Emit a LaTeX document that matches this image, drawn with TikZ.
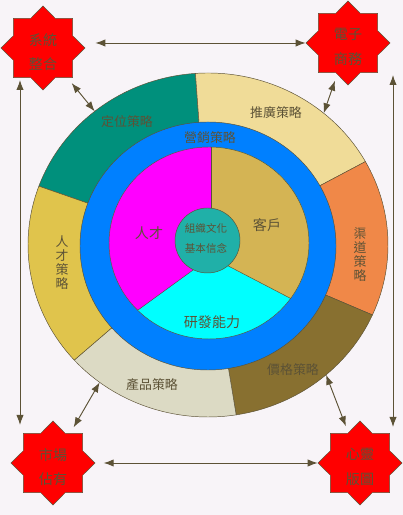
\documentclass[tikz,border=0pt]{standalone}
\usepackage{fontspec}
\setmainfont{Noto Sans CJK TC}
\usetikzlibrary{shapes.geometric,arrows.meta}
\definecolor{bgpink}{RGB}{248,244,248}
\definecolor{inkbrown}{RGB}{92,82,54}
\definecolor{dingwei}{RGB}{0,144,124}
\definecolor{tuiguang}{RGB}{240,220,152}
\definecolor{qudao}{RGB}{240,136,72}
\definecolor{jiage}{RGB}{136,112,48}
\definecolor{chanpin}{RGB}{220,218,196}
\definecolor{rencai}{RGB}{224,196,76}
\definecolor{ringblue}{RGB}{0,128,255}
\definecolor{kehu}{RGB}{212,180,84}
\definecolor{coreteal}{RGB}{32,176,168}
\definecolor{piemagenta}{RGB}{255,0,255}
\definecolor{piecyan}{RGB}{0,255,255}
\definecolor{starred}{RGB}{255,0,0}
\begin{document}
\begin{tikzpicture}[x=0.03cm,y=0.03cm,
    biarrow/.style={draw=inkbrown,line width=0.8pt,{Latex[length=0.3cm,width=0.22cm]}-{Latex[length=0.3cm,width=0.22cm]}},
    starbox/.style={star,star points=8,star point ratio=1.31,minimum size=2.52cm,inner sep=0pt,fill=starred,draw=inkbrown,line width=0.4pt},
    starlbl/.style={text=inkbrown,align=center,font=\fontsize{12}{21}\selectfont,yshift=-0.12cm},
    lbl/.style={text=inkbrown,inner sep=0pt,font=\fontsize{11}{13}\selectfont},
    vlbl/.style={lbl,align=center,font=\fontsize{11}{12}\selectfont}]
    %% background
    \fill[bgpink] (0,0) rectangle (403,515);
    \useasboundingbox (0,0) rectangle (403,515);
    %% outer ring
    \coordinate (c1) at (208,270);
    \foreach \a/\b/\col in {94/160/dingwei,29/94/tuiguang,-24/29/qudao,-81/-24/jiage,222/279/chanpin,160/222/rencai}
        \filldraw[fill=\col,draw=inkbrown,line width=0.4pt] (c1) -- ++(\a:180 and 172) arc[start angle=\a,end angle=\b,x radius=180,y radius=172] -- cycle;
    %% blue ring
    \filldraw[fill=ringblue,draw=inkbrown,line width=0.4pt] (208,269) ellipse[x radius=128,y radius=124];
    %% inner pie
    \coordinate (p) at (211,258);
    \begin{scope}
        \clip (209,272) ellipse[x radius=100,y radius=96];
        \fill[piecyan] (100,150) rectangle (320,380);
        \fill[piemagenta] (p) -- ++(216:200) -- (40,420) -- (211,420) -- cycle;
        \fill[kehu] (p) -- ++(-27.5:220) -- (400,420) -- (211,420) -- cycle;
        \draw[inkbrown,line width=0.4pt] (p) -- ++(90:150);
        \draw[inkbrown,line width=0.4pt] (p) -- ++(216:150);
        \draw[inkbrown,line width=0.4pt] (p) -- ++(-27.5:150);
    \end{scope}
    \draw[inkbrown,line width=0.4pt] (209,272) ellipse[x radius=100,y radius=96];
    %% core
    \filldraw[fill=coreteal,draw=inkbrown,line width=0.4pt] (207.5,274.5) circle (32.5);
    %% labels
    \node[lbl] (dw) at (127,393) {定位策略};
    \node[lbl] (tg) at (276,402) {推廣策略};
    \node[vlbl] (qd) at (360,260) {渠\\道\\策\\略};
    \node[lbl] (jg) at (293,145) {價格策略};
    \node[lbl] (cp) at (152,130) {產品策略};
    \node[vlbl] (rc) at (62,252) {人\\才\\策\\略};
    \node[lbl] (yx) at (210,377) {營銷策略};
    \node[lbl,font=\fontsize{12}{14}\selectfont] (rcin) at (149,282) {人才};
    \node[lbl,font=\fontsize{12}{14}\selectfont] (kh) at (267,290) {客戶};
    \node[lbl,font=\fontsize{12}{14}\selectfont] (yf) at (212,193) {研發能力};
    \node[lbl,font=\fontsize{9}{11}\selectfont] (zz) at (206,287) {組織文化};
    \node[lbl,font=\fontsize{9}{11}\selectfont] (jb) at (206,267) {基本信念};
    %% stars
    \node[starbox,label={[starlbl]center:系統\\整合}] (tl) at (43,467) {};
    \node[starbox,label={[starlbl]center:電子\\商務}] (tr) at (348,472) {};
    \node[starbox,label={[starlbl]center:市場\\佔有}] (bl) at (53,52) {};
    \node[starbox,label={[starlbl]center:心靈\\版圖}] (br) at (360,52) {};
    %% arrows
    \draw[biarrow,shorten >=0.3cm] (tr.west) -- (tr.west -| tl.east);
    \draw[biarrow,shorten <=0.25cm] (bl.east) -- (bl.east -| br.west);
    \coordinate (ltop) at (20,435);
    \coordinate (lbot) at (20,90);
    \coordinate (rtop) at (393,440);
    \coordinate (rbot) at (393,88);
    \draw[biarrow] (ltop) -- (lbot);
    \draw[biarrow] (rtop) -- (rbot);
    \path (c1) ++(129:180 and 172) coordinate (rtl);
    \path (c1) ++(50:180 and 172) coordinate (rtr);
    \path (c1) ++(233:180 and 172) coordinate (rbl);
    \path (c1) ++(-49:180 and 172) coordinate (rbr);
    \draw[biarrow,shorten <=0.2cm] (tl) -- (rtl);
    \draw[biarrow,shorten <=0.2cm] (tr) -- (rtr);
    \draw[biarrow,shorten <=0.2cm] (bl) -- (rbl);
    \draw[biarrow,shorten <=0.2cm] (br) -- (rbr);
\end{tikzpicture}
\end{document}
